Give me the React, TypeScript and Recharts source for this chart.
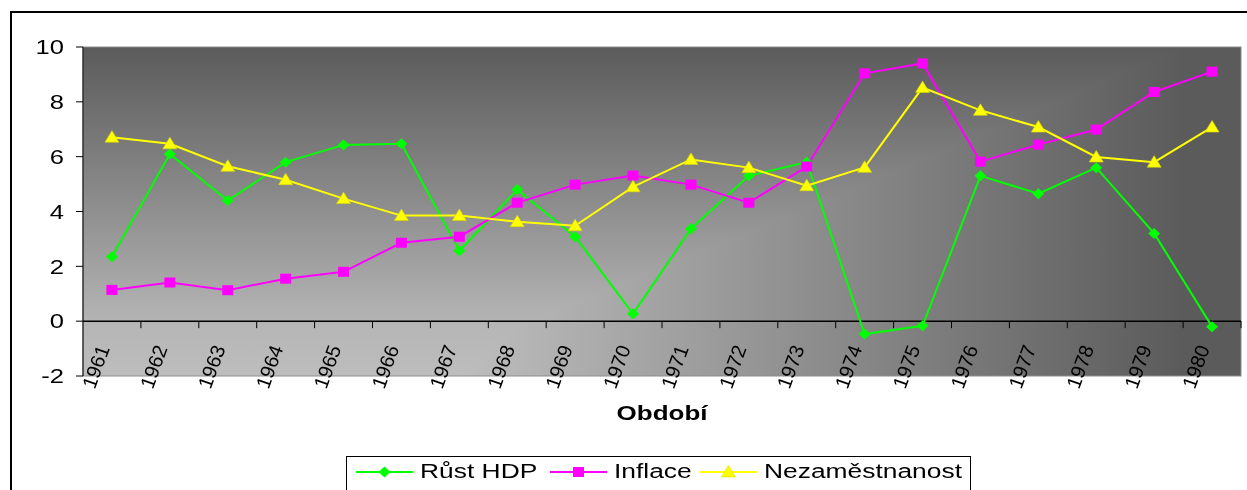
import React from "react";
import {
  LineChart,
  Line,
  XAxis,
  YAxis,
  ReferenceArea,
  ReferenceLine,
  Legend,
} from "recharts";

const years = [
  "1961", "1962", "1963", "1964", "1965", "1966", "1967", "1968", "1969", "1970",
  "1971", "1972", "1973", "1974", "1975", "1976", "1977", "1978", "1979", "1980",
];
const rustHdp = [
  2.35, 6.1, 4.4, 5.8, 6.43, 6.47, 2.57, 4.8, 3.08, 0.27,
  3.37, 5.3, 5.8, -0.47, -0.17, 5.3, 4.65, 5.6, 3.2, -0.2,
];
const inflace = [
  1.14, 1.41, 1.13, 1.55, 1.8, 2.86, 3.08, 4.32, 4.98, 5.31,
  4.98, 4.32, 5.64, 9.04, 9.4, 5.82, 6.44, 6.99, 8.36, 9.1,
];
const nezamestnanost = [
  6.71, 6.47, 5.65, 5.16, 4.47, 3.85, 3.85, 3.63, 3.48, 4.9,
  5.9, 5.6, 4.94, 5.61, 8.52, 7.69, 7.08, 5.99, 5.8, 7.08,
];
const yTicks = [-2, 0, 2, 4, 6, 8, 10];
const seriesNames = ["Růst HDP", "Inflace", "Nezaměstnanost"];
const seriesColors = ["#00ff00", "#ff00ff", "#ffff00"];
const axisTitle = "Období";

const data = years.map((year, i) => ({
  year,
  hdp: rustHdp[i],
  inflace: inflace[i],
  nezam: nezamestnanost[i],
}));

const W = 1247;
const H = 490;
const M = { top: 47, right: 6, left: 20, bottom: 0 };
const Y_AXIS_W = 63;
const X_AXIS_H = 114;
const PLOT_W = W - M.left - M.right - Y_AXIS_W;
const PLOT_H = H - M.top - M.bottom - X_AXIS_H;
const Y_MIN = -2;
const Y_MAX = 10;
const FONT = '"Liberation Sans", Arial, sans-serif';
// the original picture is stretched sideways, horizontal text included
const SX = 1.28;

// markers
const Diamond = ({ cx, cy, fill }: any) => (
  <path
    d={`M${cx},${cy - 5.5}L${cx + 6},${cy}L${cx},${cy + 5.5}L${cx - 6},${cy}Z`}
    fill={fill}
  />
);
const Square = ({ cx, cy, fill }: any) => (
  <rect x={cx - 5.5} y={cy - 5} width={11} height={10} fill={fill} />
);
const Triangle = ({ cx, cy, fill }: any) => (
  <path
    d={`M${cx},${cy - 6.5}L${cx + 7},${cy + 5}L${cx - 7},${cy + 5}Z`}
    fill={fill}
    stroke="#d8d800"
    strokeWidth={0.6}
  />
);
const markers = [Diamond, Square, Triangle];

function PlotBackground(props: any) {
  const { x, y, width, height } = props;
  return (
    <g>
      <defs>
        <linearGradient id="bgH" x1="0" y1="0" x2="1" y2="0">
          <stop offset="0.33" stopColor="#bdbdbd" />
          <stop offset="0.95" stopColor="#5b5b5b" />
        </linearGradient>
        <linearGradient id="bgV" x1="0" y1="1" x2="0" y2="0">
          <stop offset="0" stopColor="#bdbdbd" />
          <stop offset="0.15" stopColor="#b6b6b6" />
          <stop offset="0.55" stopColor="#8a8a8a" />
          <stop offset="1" stopColor="#5b5b5b" />
        </linearGradient>
      </defs>
      <rect x={x} y={y} width={width} height={height} fill="url(#bgH)" />
      <rect
        x={x}
        y={y}
        width={width}
        height={height}
        fill="url(#bgV)"
        style={{ mixBlendMode: "darken" }}
      />
      <rect x={x} y={y} width={width} height={height} fill="none" stroke="#8c8c8c" />
    </g>
  );
}

// category axis crosses at 0, ticks sit on category boundaries
function XTick(props: any) {
  const { x, y, payload } = props;
  const y0 = y - (PLOT_H * (0 - Y_MIN)) / (Y_MAX - Y_MIN);
  const bw = PLOT_W / years.length;
  return (
    <g>
      <line x1={x + bw / 2} x2={x + bw / 2} y1={y0} y2={y0 + 7} stroke="#000" />
      <text
        transform={`translate(${x - 2},${y0 + 27}) rotate(-70)`}
        textAnchor="end"
        fontFamily={FONT}
        fontSize={20}
        fill="#000"
      >
        {payload.value}
      </text>
    </g>
  );
}

function YTick(props: any) {
  const { x, y, payload } = props;
  return (
    <text
      transform={`translate(${x},${y}) scale(${SX},1)`}
      textAnchor="end"
      dy="0.36em"
      fontFamily={FONT}
      fontSize={20}
      fill="#000"
    >
      {payload.value}
    </text>
  );
}

function AxisTitle(props: any) {
  const { viewBox } = props;
  const cx = viewBox.x + viewBox.width / 2;
  return (
    <text
      transform={`translate(${cx},${viewBox.y + 44}) scale(1.3,1)`}
      textAnchor="middle"
      fontFamily={FONT}
      fontSize={20}
      fontWeight="bold"
      fill="#000"
    >
      {axisTitle}
    </text>
  );
}

const legendStarts = [9, 203, 353];

function LegendContent() {
  return (
    <svg width={623} height={38} style={{ display: "block" }}>
      {seriesNames.map((name, i) => {
        const x0 = legendStarts[i];
        const Marker = markers[i];
        return (
          <g key={name}>
            <line x1={x0} x2={x0 + 57} y1={15} y2={15} stroke={seriesColors[i]} strokeWidth={2} />
            <Marker cx={x0 + 28.5} cy={15} fill={seriesColors[i]} />
            <text
              transform={`translate(${x0 + 64},21) scale(1.32,1)`}
              fontFamily={FONT}
              fontSize={20}
              fill="#000"
            >
              {name}
            </text>
          </g>
        );
      })}
    </svg>
  );
}

export default function App() {
  const keys = ["hdp", "inflace", "nezam"];
  return (
    <div
      style={{
        position: "absolute",
        left: 0,
        top: 0,
        width: W,
        height: H,
        background: "#fff",
        overflow: "hidden",
      }}
    >
      <div
        style={{
          position: "absolute",
          left: 10,
          top: 11,
          width: 1300,
          height: 600,
          border: "2px solid #000",
        }}
      />
      <div style={{ position: "absolute", left: 0, top: 0 }}>
        <LineChart width={W} height={H} data={data} margin={M}>
          <ReferenceArea y1={Y_MIN} y2={Y_MAX} shape={PlotBackground} />
          <XAxis
            dataKey="year"
            scale="band"
            height={X_AXIS_H}
            axisLine={false}
            tickLine={false}
            tickSize={0}
            tickMargin={0}
            interval={0}
            tick={XTick}
            label={{ content: AxisTitle }}
          />
          <YAxis
            domain={[Y_MIN, Y_MAX]}
            ticks={yTicks}
            interval={0}
            width={Y_AXIS_W}
            tickSize={7}
            tickMargin={12}
            axisLine={{ stroke: "#000" }}
            tickLine={{ stroke: "#000" }}
            tick={YTick}
          />
          <ReferenceLine y={0} stroke="#000" strokeWidth={1.5} />
          {keys.map((k, i) => {
            const Marker = markers[i];
            return (
              <Line
                key={k}
                type="linear"
                dataKey={k}
                name={seriesNames[i]}
                stroke={seriesColors[i]}
                strokeWidth={2}
                isAnimationActive={false}
                activeDot={false}
                dot={(p: any) => (
                  <Marker key={`${k}-${p.index}`} cx={p.cx} cy={p.cy} fill={seriesColors[i]} />
                )}
              />
            );
          })}
          <Legend
            layout="horizontal"
            verticalAlign="middle"
            align="center"
            content={LegendContent}
            wrapperStyle={{
              position: "absolute",
              left: 346,
              top: 456,
              width: 625,
              height: 40,
              border: "1px solid #000",
              background: "#fff",
              boxSizing: "border-box",
            }}
          />
        </LineChart>
      </div>
    </div>
  );
}
